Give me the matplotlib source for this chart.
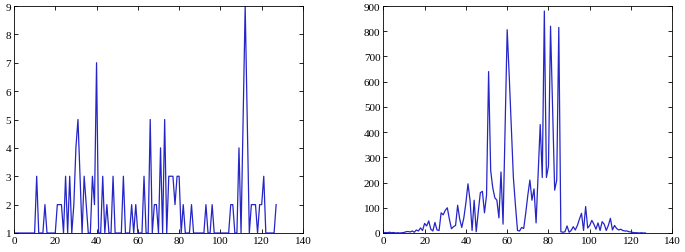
import numpy as np
import matplotlib

matplotlib.use("Agg")
import matplotlib.pyplot as plt

# left panel: counts per index 0..127
counts = [
    1, 1, 1, 1, 1, 1, 1, 1, 1, 1,   # 0-9
    1, 3, 1, 1, 1, 2, 1, 1, 1, 1,   # 10-19
    1, 2, 2, 2, 1, 3, 1, 3, 1, 2,   # 20-29
    4, 5, 3, 1, 3, 2, 1, 1, 3, 2,   # 30-39
    7, 1, 1, 3, 1, 2, 1, 1, 3, 1,   # 40-49
    1, 1, 1, 3, 1, 1, 1, 2, 1, 2,   # 50-59
    1, 1, 1, 3, 1, 1, 5, 1, 2, 2,   # 60-69
    1, 4, 1, 5, 1, 3, 3, 3, 2, 3,   # 70-79
    3, 1, 2, 1, 1, 1, 2, 1, 1, 1,   # 80-89
    1, 1, 1, 2, 1, 1, 2, 1, 1, 1,   # 90-99
    1, 1, 1, 1, 1, 2, 2, 1, 1, 4,   # 100-109
    1, 5, 9, 5, 1, 2, 2, 2, 1, 2,   # 110-119
    2, 3, 1, 1, 1, 1, 1, 2,         # 120-127
]

# right panel: magnitude per index 0..127
magnitude = [
    0, 2, 1, 3, 1, 2, 0, 1, 0, 1,               # 0-9
    2, 5, 6, 4, 8, 3, 12, 8, 20, 10,            # 10-19
    38, 28, 48, 15, 8, 42, 12, 10, 80, 72,      # 20-29
    90, 100, 55, 17, 25, 30, 110, 55, 22, 60,   # 30-39
    120, 195, 130, 10, 130, 5, 85, 160, 165, 80,  # 40-49
    150, 640, 248, 180, 140, 130, 60, 242, 35, 420,  # 50-59
    806, 620, 420, 220, 110, 10, 8, 22, 18, 80,  # 60-69
    150, 210, 130, 175, 40, 230, 430, 220, 880, 220,  # 70-79
    265, 820, 500, 170, 210, 815, 5, 3, 5, 28,  # 80-89
    3, 10, 25, 12, 30, 55, 78, 10, 105, 20,     # 90-99
    30, 50, 35, 15, 40, 10, 45, 35, 10, 30,     # 100-109
    58, 12, 30, 18, 12, 15, 10, 8, 8, 5,        # 110-119
    4, 2, 1, 1, 0, 1, 0, 0,                     # 120-127
]

x_left = np.arange(len(counts))
x_right = np.arange(len(magnitude))

plt.rcParams["font.family"] = ["Liberation Serif", "DejaVu Serif"]
plt.rcParams["font.size"] = 8

line_color = "#2525c8"

fig = plt.figure(figsize=(6.85, 2.53), dpi=100)
ax1 = fig.add_axes([0.0204, 0.0751, 0.4219, 0.8972])
ax2 = fig.add_axes([0.5596, 0.0751, 0.4219, 0.8972])

ax1.plot(x_left, counts, color=line_color, linewidth=0.9)
ax1.set_xlim(0, 140)
ax1.set_ylim(1, 9)
ax1.set_xticks(np.arange(0, 141, 20))
ax1.set_yticks(np.arange(1, 10, 1))

ax2.plot(x_right, magnitude, color=line_color, linewidth=0.9)
ax2.set_xlim(0, 140)
ax2.set_ylim(0, 900)
ax2.set_xticks(np.arange(0, 141, 20))
ax2.set_yticks(np.arange(0, 901, 100))

for ax in (ax1, ax2):
    ax.tick_params(direction="in", top=True, right=True, length=3,
                   width=0.6, pad=2, labelsize=8)
    for sp in ax.spines.values():
        sp.set_linewidth(0.6)

fig.savefig("out.png", dpi=100)
